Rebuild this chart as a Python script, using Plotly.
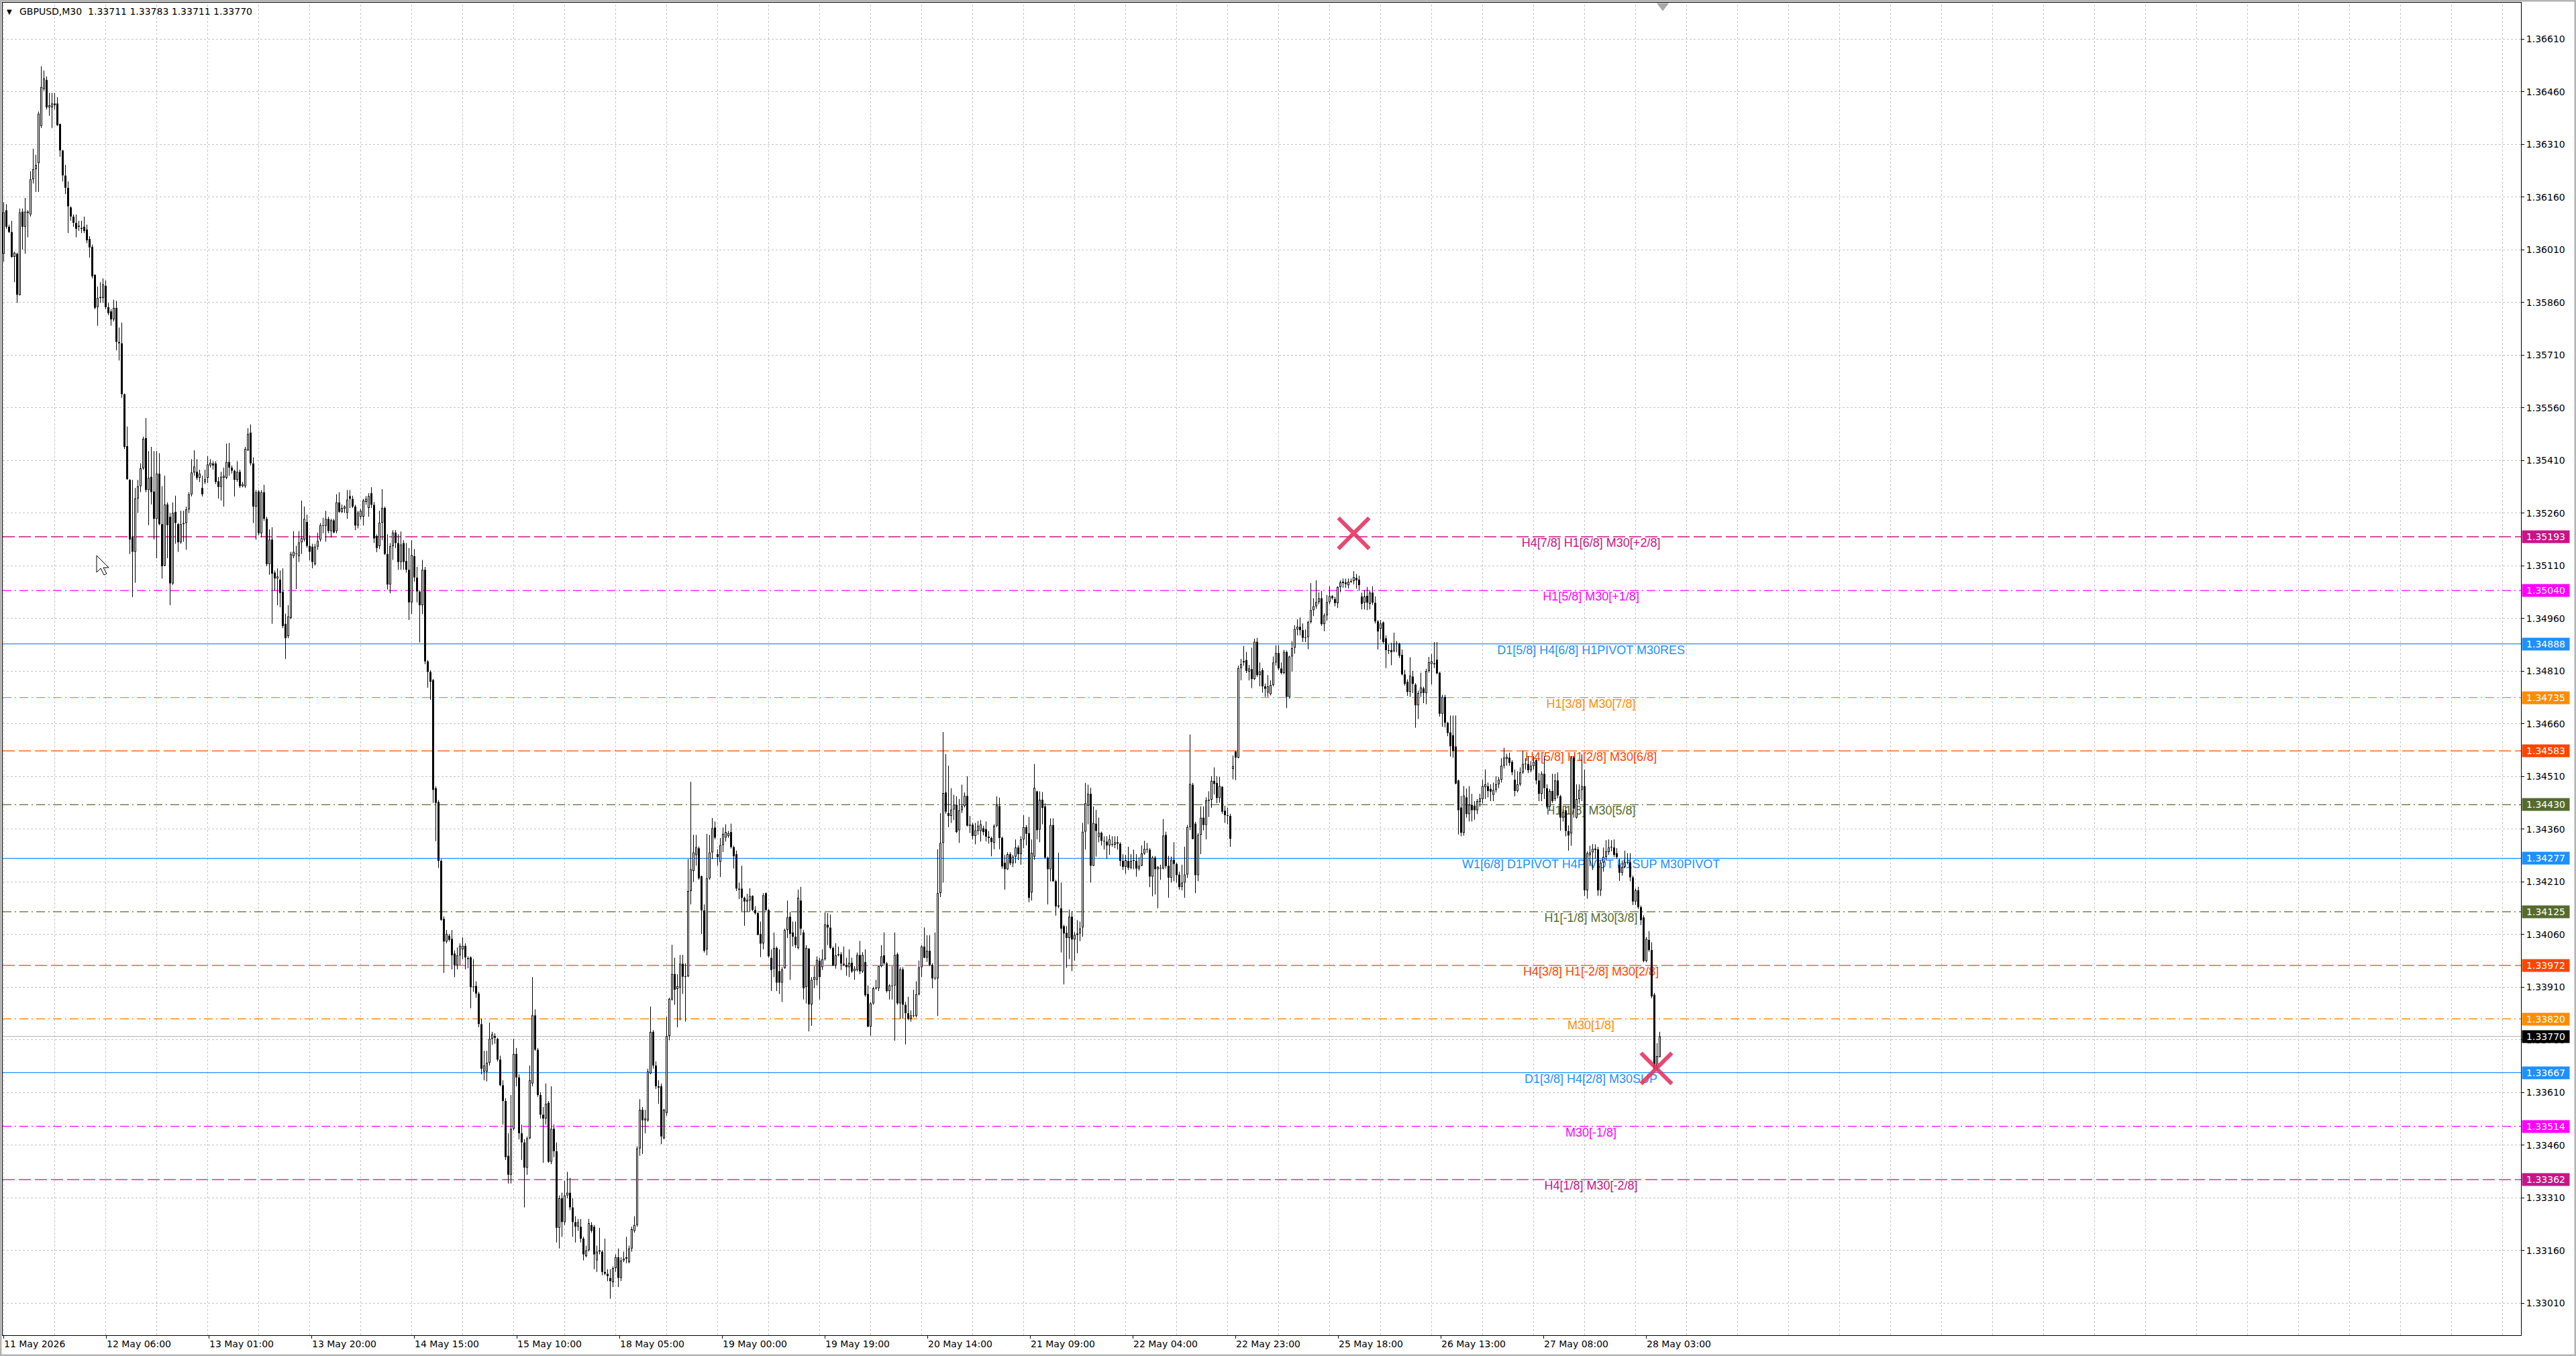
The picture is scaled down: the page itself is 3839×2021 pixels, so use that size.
import plotly.graph_objects as go

# ---------------- data: GBPUSD M30, prices in pips above 1.3300 ----------------
BASE = 1.3300

opens_pips = [
    299.9, 312.3, 307.6, 306.1, 299.0, 299.9, 288.2, 311.9, 307.6, 311.9,
    311.1, 321.1, 324.0, 325.7, 336.3, 346.8, 349.4, 341.6, 341.6, 342.7,
    342.7, 336.9, 329.3, 322.2, 318.7, 313.1, 310.5, 308.7, 307.9, 307.3,
    307.6, 306.8, 304.1, 301.9, 293.9, 284.7, 287.3, 287.3, 290.8, 284.7,
    283.5, 281.2, 284.5, 274.8, 274.4, 259.9, 245.1, 235.5, 219.1, 215.0,
    230.2, 233.7, 238.8, 247.4, 232.6, 236.4, 232.2, 224.4, 237.3, 222.9,
    211.1, 228.5, 225.0, 206.0, 226.4, 222.9, 217.7, 222.9, 223.2, 227.1,
    231.4, 237.6, 237.8, 236.1, 233.2, 234.9, 236.1, 239.6, 240.2, 240.2,
    235.1, 233.5, 236.1, 236.1, 240.6, 239.0, 238.1, 235.5, 237.8, 233.7,
    233.7, 243.9, 249.0, 240.2, 227.9, 232.2, 220.3, 232.0, 224.4, 211.5,
    218.5, 209.1, 207.4, 207.1, 203.6, 194.5, 191.0, 196.2, 213.8, 214.6,
    213.8, 217.7, 218.5, 223.5, 216.7, 216.5, 211.5, 216.5, 218.5, 222.6,
    222.4, 224.4, 220.9, 224.0, 220.9, 229.1, 226.4, 227.3, 226.1, 230.9,
    230.1, 227.9, 222.5, 225.0, 225.0, 229.2, 227.5, 231.7, 228.4, 219.5,
    216.6, 223.3, 227.5, 214.4, 205.7, 216.6, 220.5, 217.5, 212.1, 217.5,
    212.4, 209.9, 200.6, 213.8, 207.7, 203.7, 199.8, 209.9, 183.8, 180.8,
    178.5, 147.7, 143.8, 127.0, 110.5, 104.0, 105.7, 104.8, 100.6, 97.3,
    100.1, 101.8, 102.8, 99.3, 99.5, 91.2, 91.4, 89.2, 80.5, 67.0,
    67.0, 69.5, 76.3, 77.1, 76.3, 70.4, 63.1, 58.6, 43.0, 37.6,
    50.7, 72.0, 65.3, 49.4, 46.8, 39.6, 48.0, 63.6, 83.0, 73.2,
    60.3, 54.7, 53.6, 58.1, 41.3, 50.7, 44.3, 22.5, 30.9, 24.1,
    31.7, 32.5, 28.3, 24.1, 22.8, 22.8, 19.4, 14.4, 16.1, 23.3,
    22.8, 13.2, 15.7, 15.7, 9.9, 9.4, 8.2, 7.0, 11.0, 14.1,
    8.2, 13.2, 13.7, 12.7, 16.6, 21.6, 23.3, 45.1, 56.1, 53.1,
    53.1, 66.5, 78.3, 68.7, 62.8, 62.8, 48.0, 55.2, 77.1, 87.5,
    94.8, 90.5, 90.9, 97.7, 94.0, 94.1, 118.4, 124.1, 128.6, 130.6,
    122.6, 112.9, 101.8, 122.0, 129.4, 136.5, 128.9, 126.7, 131.5, 133.6,
    134.1, 135.2, 130.9, 128.9, 119.1, 119.1, 116.5, 115.4, 115.7, 117.0,
    113.0, 112.1, 106.2, 103.5, 117.8, 113.0, 99.4, 96.3, 102.2, 95.6,
    92.3, 96.4, 107.3, 111.1, 106.6, 105.4, 102.2, 115.7, 106.6, 91.1,
    102.0, 86.1, 93.1, 93.1, 98.6, 96.7, 99.0, 108.8, 108.0, 102.2,
    97.2, 100.1, 100.4, 97.7, 97.4, 96.7, 98.0, 95.6, 95.9, 100.2,
    95.5, 98.2, 89.1, 79.8, 86.4, 90.7, 90.7, 97.0, 100.1, 97.8,
    89.9, 91.5, 91.5, 100.4, 86.4, 96.1, 86.0, 83.6, 82.0, 83.0,
    82.8, 89.0, 96.7, 102.6, 99.4, 101.4, 97.4, 93.5, 93.5, 117.8,
    132.1, 146.5, 140.6, 139.8, 141.6, 143.0, 135.7, 141.4, 142.6, 145.5,
    137.0, 137.3, 134.1, 135.5, 135.5, 136.3, 136.0, 133.9, 133.5, 132.1,
    137.0, 142.6, 133.6, 126.5, 124.6, 128.9, 126.3, 128.2, 130.8, 128.9,
    133.1, 136.6, 134.9, 118.0, 128.2, 146.8, 135.9, 144.4, 142.5, 127.9,
    124.6, 137.2, 121.2, 114.0, 113.5, 108.4, 106.5, 105.0, 111.1, 104.6,
    105.9, 106.3, 108.0, 135.3, 142.7, 146.1, 125.6, 137.6, 133.8, 135.0,
    132.7, 132.5, 131.4, 131.8, 131.6, 132.3, 131.9, 127.0, 125.3, 127.0,
    125.0, 127.0, 127.0, 124.8, 125.6, 129.1, 130.4, 130.2, 122.5, 127.9,
    124.6, 125.0, 124.8, 134.4, 125.6, 122.2, 127.3, 126.1, 123.1, 119.6,
    120.8, 123.1, 136.6, 148.7, 137.6, 122.9, 134.4, 139.3, 137.2, 144.1,
    144.4, 149.8, 149.2, 144.9, 148.1, 141.3, 140.0, 139.8, 153.2, 158.1,
    156.4, 181.9, 183.5, 184.2, 180.9, 181.6, 178.8, 189.4, 179.9, 181.3,
    176.7, 174.9, 174.5, 177.1, 183.5, 186.2, 181.8, 180.5, 186.5, 173.7,
    185.2, 187.7, 192.9, 193.7, 192.7, 190.5, 190.7, 195.0, 198.4, 199.5,
    200.7, 201.8, 194.4, 196.9, 200.7, 202.4, 201.6, 200.4, 205.0, 206.1,
    206.3, 205.5, 206.5, 206.7, 207.6, 207.1, 202.3, 200.5, 202.5, 200.2,
    203.4, 200.5, 195.2, 193.1, 194.9, 190.4, 187.0, 187.0, 186.7, 188.9,
    188.9, 185.7, 180.1, 178.0, 175.1, 179.5, 177.2, 171.3, 174.8, 176.1,
    174.8, 181.1, 183.1, 183.3, 184.3, 180.6, 168.9, 173.7, 166.3, 163.6,
    162.8, 159.6, 149.9, 142.2, 135.0, 145.1, 140.3, 143.0, 142.7, 141.4,
    143.8, 144.6, 148.0, 148.3, 147.5, 145.8, 147.2, 148.8, 150.1, 154.1,
    156.0, 156.4, 155.2, 150.1, 146.9, 148.8, 152.2, 154.6, 154.6, 152.8,
    154.0, 155.7, 149.9, 146.1, 151.8, 147.7, 142.4, 146.9, 144.6, 149.9,
    145.4, 139.3, 141.4, 135.5, 134.8, 156.4, 139.3, 144.6, 147.2, 148.3,
    118.6, 128.6, 129.4, 130.1, 130.3, 118.6, 126.5, 128.1, 129.5, 130.8,
    130.8, 129.2, 125.9, 123.6, 125.3, 126.6, 126.6, 122.3, 115.4, 118.6,
    113.8, 110.9, 98.5, 104.5, 101.6, 88.9, 67.7, 71.1,
]

highs_pips = [
    314.6, 314.0, 308.2, 309.3, 300.5, 300.2, 312.8, 312.8, 315.8, 312.3,
    323.4, 329.8, 328.1, 340.4, 353.3, 352.1, 350.4, 345.7, 345.7, 345.7,
    344.5, 336.9, 329.5, 325.2, 320.5, 313.4, 311.1, 311.1, 309.3, 309.3,
    310.5, 308.2, 304.9, 302.5, 294.1, 290.6, 291.8, 292.9, 292.3, 285.9,
    284.1, 286.8, 286.5, 278.9, 280.3, 260.1, 250.7, 235.7, 235.5, 233.2,
    235.5, 240.2, 247.8, 253.1, 243.7, 244.9, 243.7, 243.7, 243.1, 233.7,
    236.7, 229.1, 226.1, 229.1, 231.0, 223.2, 226.7, 226.7, 227.9, 232.0,
    241.4, 243.9, 241.4, 238.4, 236.7, 238.4, 242.3, 241.4, 240.8, 240.8,
    236.3, 237.8, 239.0, 245.8, 246.0, 239.6, 238.4, 240.8, 238.4, 234.9,
    244.9, 250.2, 251.3, 241.9, 232.6, 232.6, 232.6, 234.1, 225.0, 221.4,
    222.0, 209.7, 210.3, 209.7, 210.3, 197.4, 199.8, 215.0, 220.9, 216.7,
    220.9, 229.6, 227.9, 225.6, 219.7, 217.3, 217.3, 220.5, 223.2, 224.7,
    226.7, 225.0, 224.4, 224.4, 231.4, 232.0, 228.5, 228.2, 232.6, 232.6,
    231.0, 228.4, 226.7, 227.2, 230.1, 230.9, 231.7, 233.4, 229.2, 220.0,
    226.7, 232.9, 227.9, 220.0, 217.5, 221.2, 221.2, 220.0, 220.8, 218.3,
    217.5, 216.1, 218.3, 215.8, 210.7, 204.0, 212.7, 210.7, 184.2, 181.3,
    178.8, 148.2, 144.3, 127.5, 111.2, 107.3, 106.2, 107.3, 101.5, 102.3,
    103.5, 105.2, 103.5, 99.8, 99.8, 99.0, 92.7, 89.7, 82.1, 72.9,
    72.9, 80.9, 78.3, 77.9, 76.6, 71.5, 64.5, 59.4, 49.4, 60.3,
    76.3, 73.7, 66.2, 51.9, 47.7, 48.5, 68.7, 93.9, 84.7, 73.7,
    61.1, 56.9, 63.6, 58.6, 62.8, 51.9, 46.8, 31.7, 32.5, 35.9,
    38.4, 36.7, 30.9, 25.8, 25.0, 25.0, 19.9, 17.4, 25.0, 24.1,
    23.3, 17.4, 22.5, 16.1, 19.4, 10.7, 10.7, 11.5, 14.9, 16.6,
    14.1, 15.7, 19.9, 17.4, 22.8, 25.8, 45.7, 59.1, 56.9, 56.1,
    67.8, 85.5, 78.8, 69.9, 64.5, 63.6, 56.4, 82.6, 88.0, 103.1,
    99.4, 94.7, 100.2, 100.2, 97.8, 127.5, 149.5, 134.4, 134.4, 131.1,
    122.8, 114.6, 134.7, 134.4, 139.2, 138.2, 130.3, 133.5, 136.5, 137.4,
    135.5, 137.6, 131.3, 129.9, 120.8, 125.6, 116.8, 117.6, 119.2, 117.2,
    114.1, 112.3, 109.7, 117.8, 118.0, 113.3, 101.8, 106.6, 102.6, 101.8,
    96.7, 107.7, 115.7, 112.5, 109.7, 109.7, 118.8, 119.6, 107.3, 103.0,
    102.2, 93.9, 97.0, 99.8, 99.4, 101.8, 112.3, 112.1, 111.7, 102.6,
    103.5, 102.6, 101.0, 102.6, 99.4, 101.8, 99.4, 97.0, 100.9, 104.2,
    101.0, 101.8, 91.5, 86.8, 91.1, 93.1, 97.0, 103.0, 106.6, 98.2,
    91.9, 97.0, 106.6, 100.9, 96.7, 96.7, 86.8, 88.3, 84.4, 90.3,
    92.7, 98.6, 103.0, 108.0, 105.8, 105.8, 97.8, 106.6, 130.3, 140.6,
    163.7, 157.4, 154.1, 147.7, 145.8, 145.4, 144.6, 148.7, 146.5, 151.1,
    139.8, 137.8, 137.8, 138.4, 138.6, 137.0, 138.2, 135.5, 133.9, 137.4,
    145.4, 145.0, 133.9, 128.7, 129.4, 129.5, 128.7, 133.1, 131.4, 134.0,
    140.0, 137.2, 139.5, 133.1, 154.6, 147.0, 146.8, 146.6, 143.4, 128.2,
    139.1, 139.1, 121.6, 129.3, 120.8, 108.8, 108.4, 113.1, 112.7, 106.7,
    110.1, 109.7, 137.8, 149.2, 148.7, 147.8, 142.5, 141.5, 139.3, 135.3,
    134.0, 134.0, 134.4, 134.0, 134.0, 134.0, 132.3, 128.9, 128.7, 131.0,
    128.9, 130.2, 128.9, 128.0, 131.4, 132.7, 132.1, 130.6, 128.4, 128.4,
    125.5, 125.9, 138.9, 135.3, 128.4, 128.2, 132.3, 126.5, 123.9, 125.9,
    131.0, 137.2, 163.0, 149.2, 138.1, 134.9, 142.5, 142.5, 145.1, 146.8,
    151.1, 153.6, 151.1, 150.9, 148.3, 142.7, 142.1, 140.4, 157.0, 158.3,
    182.6, 184.5, 188.2, 186.5, 182.8, 187.7, 190.3, 190.5, 183.5, 181.9,
    177.5, 179.9, 178.4, 185.2, 188.4, 188.4, 183.5, 187.1, 186.9, 185.4,
    189.6, 194.1, 195.8, 196.3, 194.6, 192.9, 195.4, 206.1, 201.8, 206.9,
    203.5, 203.9, 197.5, 202.7, 205.2, 202.7, 202.2, 205.2, 206.9, 207.4,
    207.4, 207.4, 207.4, 209.5, 208.7, 208.2, 203.4, 204.1, 205.0, 203.9,
    205.2, 202.3, 195.6, 195.6, 195.2, 191.2, 188.6, 189.1, 192.0, 189.6,
    189.1, 187.2, 181.4, 178.7, 185.0, 181.1, 177.6, 175.5, 180.6, 176.6,
    181.7, 185.1, 185.9, 189.3, 189.3, 180.8, 174.3, 174.3, 166.6, 168.4,
    168.4, 168.4, 150.1, 145.5, 148.3, 147.6, 148.3, 146.1, 144.0, 144.6,
    146.1, 150.1, 153.0, 149.3, 148.8, 149.3, 151.1, 150.9, 156.2, 159.2,
    157.5, 157.8, 155.7, 153.0, 152.5, 153.6, 158.3, 156.2, 156.8, 155.4,
    156.8, 156.0, 152.0, 152.5, 156.8, 148.8, 147.5, 151.8, 151.8, 152.2,
    145.8, 141.6, 142.7, 137.1, 156.8, 156.8, 148.8, 148.8, 157.3, 153.0,
    129.7, 131.3, 131.8, 131.7, 131.0, 127.1, 130.8, 132.9, 133.1, 132.9,
    133.1, 130.6, 127.6, 127.1, 129.9, 129.2, 129.2, 122.8, 119.1, 119.6,
    114.3, 111.5, 105.3, 107.0, 103.8, 89.4, 75.1, 78.3,
]

lows_pips = [
    297.6, 307.0, 305.8, 298.8, 291.8, 285.9, 288.0, 301.1, 299.9, 304.6,
    310.5, 319.9, 317.5, 317.5, 335.7, 346.3, 341.0, 339.2, 335.7, 341.0,
    336.3, 327.5, 320.5, 316.9, 305.8, 309.3, 307.6, 304.6, 306.4, 305.8,
    305.8, 302.9, 298.8, 292.9, 284.1, 279.4, 285.9, 285.9, 284.1, 282.4,
    279.4, 280.6, 272.4, 269.5, 258.9, 244.3, 235.5, 214.4, 202.1, 206.2,
    226.1, 232.0, 238.4, 232.0, 222.6, 228.5, 218.5, 213.2, 222.6, 207.4,
    210.9, 213.2, 199.8, 205.6, 217.3, 215.0, 217.3, 217.9, 215.6, 226.1,
    230.8, 236.7, 235.5, 234.9, 230.8, 234.3, 234.6, 239.0, 238.4, 234.3,
    230.2, 229.6, 227.9, 235.7, 236.7, 237.3, 230.8, 234.9, 233.2, 233.4,
    233.2, 243.7, 239.6, 223.2, 218.5, 219.7, 219.1, 223.8, 210.9, 208.5,
    194.5, 203.9, 199.8, 199.2, 193.3, 184.5, 190.4, 195.8, 213.2, 204.4,
    212.1, 214.4, 217.9, 216.2, 212.6, 210.3, 211.1, 215.6, 217.9, 220.3,
    217.9, 220.3, 219.1, 220.3, 220.3, 226.1, 226.1, 226.1, 224.4, 227.5,
    227.5, 221.2, 221.7, 224.2, 222.5, 228.4, 225.0, 227.5, 217.5, 214.9,
    215.8, 218.3, 214.1, 204.3, 203.2, 212.7, 216.1, 209.9, 209.9, 209.9,
    209.1, 195.6, 197.3, 206.5, 200.6, 189.2, 197.3, 183.0, 176.3, 172.9,
    143.5, 132.6, 125.0, 109.9, 95.1, 103.5, 104.0, 96.1, 93.9, 96.1,
    97.3, 99.0, 96.1, 96.4, 85.0, 89.7, 88.0, 79.6, 66.2, 64.5,
    64.2, 68.7, 74.6, 74.9, 69.9, 62.8, 51.9, 41.8, 35.1, 35.1,
    50.2, 62.8, 47.7, 41.8, 28.3, 37.6, 47.7, 62.8, 72.9, 59.8,
    53.6, 41.0, 51.9, 41.0, 40.6, 42.6, 18.3, 16.6, 19.9, 23.3,
    30.9, 27.5, 19.9, 18.3, 21.6, 18.3, 13.2, 14.1, 15.7, 21.1,
    10.7, 9.9, 14.9, 9.0, 9.0, 7.3, 2.3, 5.6, 9.9, 5.6,
    7.3, 12.7, 12.4, 12.4, 15.7, 21.1, 22.8, 43.0, 43.5, 49.4,
    52.7, 66.2, 67.8, 62.0, 57.8, 46.3, 47.7, 54.4, 75.9, 87.2,
    86.0, 79.6, 81.6, 89.1, 81.2, 93.9, 114.6, 121.0, 125.6, 121.6,
    106.2, 100.9, 100.1, 121.6, 127.5, 133.1, 125.6, 122.4, 129.5, 132.5,
    133.6, 130.5, 124.8, 118.4, 116.1, 112.7, 108.5, 112.5, 112.5, 112.7,
    111.7, 105.8, 99.6, 101.8, 112.7, 99.4, 89.9, 93.9, 89.9, 89.1,
    86.8, 96.3, 105.0, 93.1, 102.6, 102.2, 101.8, 105.8, 87.5, 86.4,
    78.4, 80.0, 90.7, 91.5, 87.5, 95.9, 98.6, 103.0, 101.8, 97.0,
    96.3, 99.8, 95.9, 97.0, 94.3, 93.9, 95.1, 93.1, 95.5, 94.7,
    95.1, 88.3, 79.6, 77.2, 86.0, 90.3, 89.9, 96.7, 97.4, 89.5,
    87.5, 87.5, 75.8, 86.0, 82.0, 82.0, 74.7, 81.6, 81.2, 82.4,
    82.4, 88.7, 93.9, 99.3, 98.2, 97.0, 90.7, 93.1, 82.8, 116.7,
    120.8, 140.4, 136.6, 137.8, 138.6, 134.9, 132.1, 140.6, 142.2, 136.8,
    134.9, 133.1, 131.7, 134.4, 132.5, 134.3, 132.5, 131.9, 128.3, 130.3,
    136.6, 130.3, 124.8, 118.8, 124.4, 125.8, 125.2, 126.3, 127.2, 125.9,
    130.6, 131.4, 115.2, 115.7, 127.3, 133.1, 132.3, 137.4, 127.6, 114.6,
    121.2, 121.0, 111.4, 113.5, 100.9, 91.8, 96.5, 99.0, 95.6, 98.6,
    100.7, 104.1, 105.4, 130.2, 137.4, 120.8, 125.5, 128.2, 132.3, 131.4,
    130.2, 127.6, 128.7, 131.0, 130.6, 130.2, 125.5, 124.4, 123.3, 124.4,
    124.6, 124.6, 122.5, 124.2, 125.5, 128.7, 129.3, 119.5, 116.9, 117.4,
    113.5, 121.6, 124.6, 124.8, 116.5, 120.8, 121.2, 120.8, 118.8, 118.6,
    116.5, 122.1, 135.7, 133.1, 117.8, 121.2, 128.9, 135.7, 133.1, 139.5,
    142.1, 145.9, 143.4, 143.6, 140.4, 137.8, 137.4, 131.0, 150.2, 150.0,
    156.2, 178.4, 182.6, 180.5, 178.4, 176.2, 178.5, 179.4, 176.7, 174.9,
    173.7, 173.7, 174.1, 176.7, 182.6, 181.3, 180.1, 180.1, 170.5, 173.2,
    180.9, 186.0, 191.2, 191.2, 189.3, 189.3, 187.3, 194.6, 196.7, 198.8,
    200.1, 193.9, 192.4, 195.4, 200.1, 201.4, 199.5, 199.0, 203.5, 204.8,
    204.8, 204.6, 206.1, 205.7, 204.5, 203.9, 198.6, 198.6, 198.4, 198.6,
    199.9, 194.6, 187.2, 190.0, 188.9, 181.9, 185.9, 182.7, 186.4, 186.4,
    184.8, 179.8, 176.9, 174.0, 173.7, 174.8, 164.9, 167.4, 173.7, 171.9,
    171.6, 180.6, 177.2, 181.9, 180.1, 168.1, 165.2, 165.0, 162.5, 156.7,
    156.4, 148.8, 134.5, 134.0, 134.2, 139.3, 138.2, 138.2, 138.7, 140.3,
    142.4, 143.3, 144.6, 145.1, 144.0, 144.0, 146.5, 147.7, 149.3, 153.3,
    154.1, 154.1, 151.4, 145.4, 146.5, 148.3, 151.8, 153.0, 152.0, 152.2,
    153.0, 148.8, 144.0, 144.0, 144.6, 141.9, 141.4, 143.5, 144.0, 144.8,
    135.6, 138.2, 134.0, 129.9, 131.3, 139.3, 139.0, 143.3, 144.0, 117.0,
    116.2, 125.5, 124.4, 127.6, 117.0, 117.0, 123.9, 127.1, 128.7, 129.7,
    128.1, 127.6, 121.3, 122.8, 124.9, 126.0, 121.2, 114.4, 114.4, 113.3,
    108.7, 98.1, 98.1, 101.1, 87.9, 67.2, 67.2, 71.1,
]

closes_pips = [
    311.7, 307.6, 306.1, 299.0, 300.2, 288.2, 311.7, 307.6, 311.9, 311.5,
    321.1, 324.0, 325.2, 339.8, 347.4, 349.8, 341.6, 342.2, 342.7, 342.2,
    336.5, 329.3, 322.2, 318.7, 313.4, 310.5, 308.7, 307.0, 307.6, 307.0,
    306.4, 303.7, 301.7, 293.5, 284.5, 287.3, 287.6, 291.2, 284.7, 283.0,
    281.2, 284.5, 274.8, 274.4, 259.9, 244.9, 235.7, 218.5, 215.0, 230.2,
    233.7, 238.8, 247.2, 232.6, 236.1, 232.0, 224.4, 237.3, 222.9, 210.9,
    228.5, 222.6, 206.0, 226.1, 223.2, 217.7, 222.9, 223.2, 227.1, 231.4,
    237.6, 239.3, 236.1, 237.3, 231.4, 235.7, 239.9, 240.4, 239.6, 234.9,
    233.5, 236.4, 236.7, 240.6, 239.0, 238.1, 235.5, 237.8, 233.7, 234.3,
    244.3, 248.6, 240.2, 227.9, 232.0, 220.3, 232.0, 224.4, 211.5, 218.5,
    208.8, 207.4, 208.0, 203.3, 193.9, 190.4, 196.6, 214.4, 215.0, 214.4,
    217.7, 218.9, 224.4, 216.7, 215.0, 212.1, 216.5, 218.1, 222.6, 222.4,
    224.4, 220.9, 224.0, 220.5, 229.1, 226.4, 227.5, 227.9, 229.9, 230.1,
    227.9, 222.5, 226.2, 226.7, 229.6, 230.1, 230.9, 228.4, 218.8, 216.1,
    223.3, 227.5, 214.4, 205.7, 216.6, 220.5, 217.5, 212.1, 217.1, 212.1,
    209.9, 200.6, 214.1, 207.7, 203.7, 199.8, 209.9, 183.8, 180.8, 178.0,
    147.2, 143.5, 127.0, 110.2, 104.0, 106.2, 104.5, 100.1, 97.3, 100.1,
    102.8, 102.8, 99.5, 99.0, 91.0, 91.0, 89.2, 80.5, 67.8, 68.7,
    69.5, 76.3, 77.6, 76.6, 70.4, 63.1, 58.6, 42.6, 37.6, 50.7,
    72.0, 65.3, 49.4, 46.8, 39.6, 48.0, 64.5, 83.0, 73.2, 60.3,
    54.7, 53.6, 57.8, 41.3, 50.7, 44.3, 22.5, 30.9, 24.1, 31.7,
    32.5, 28.3, 24.1, 22.8, 24.1, 19.4, 14.9, 16.1, 23.8, 21.6,
    14.9, 15.7, 16.1, 9.9, 9.4, 8.7, 7.3, 11.0, 14.1, 8.2,
    13.2, 13.7, 14.1, 16.6, 22.1, 23.3, 45.1, 56.1, 53.1, 53.6,
    67.0, 78.3, 68.7, 62.8, 62.4, 48.5, 56.1, 77.1, 87.7, 94.8,
    90.3, 91.3, 97.7, 94.0, 94.1, 118.4, 124.6, 129.4, 130.9, 122.0,
    112.9, 101.4, 122.0, 129.4, 136.3, 133.6, 128.1, 131.5, 134.7, 135.2,
    134.9, 130.9, 128.3, 119.1, 118.8, 116.5, 115.4, 115.9, 117.0, 113.0,
    112.1, 105.9, 103.4, 117.2, 113.0, 99.8, 95.9, 102.2, 92.3, 92.3,
    96.1, 107.3, 110.9, 106.2, 105.4, 103.0, 116.5, 107.7, 90.7, 102.2,
    86.1, 93.1, 93.9, 98.8, 93.9, 99.0, 108.9, 108.0, 102.2, 97.2,
    100.1, 100.4, 97.7, 97.4, 96.7, 98.0, 95.5, 96.3, 100.2, 95.5,
    100.2, 88.7, 79.8, 86.4, 90.7, 90.9, 97.0, 99.8, 97.8, 89.9,
    91.5, 91.3, 100.2, 86.4, 96.1, 86.0, 83.6, 82.0, 83.0, 82.8,
    89.0, 96.7, 102.6, 99.4, 101.4, 97.4, 93.5, 93.7, 117.8, 132.1,
    146.3, 141.0, 139.8, 141.6, 143.0, 135.2, 141.4, 142.6, 145.5, 137.0,
    137.3, 134.1, 135.7, 137.0, 137.4, 135.2, 133.9, 133.5, 132.3, 137.0,
    142.8, 133.5, 125.4, 124.6, 128.9, 126.3, 128.2, 130.8, 128.9, 133.1,
    136.6, 134.7, 116.5, 129.3, 147.8, 135.7, 144.4, 142.1, 127.9, 124.6,
    137.2, 121.2, 114.0, 114.3, 107.7, 106.3, 105.0, 111.1, 104.6, 105.9,
    106.3, 107.7, 135.3, 143.4, 146.1, 125.6, 137.8, 135.5, 135.0, 132.7,
    132.5, 131.4, 133.1, 131.6, 132.3, 131.9, 127.0, 125.3, 127.2, 125.0,
    127.0, 127.2, 124.8, 125.6, 129.1, 130.4, 130.2, 122.5, 127.9, 124.6,
    125.3, 124.8, 134.2, 125.5, 122.2, 127.3, 126.1, 122.9, 119.5, 120.8,
    123.1, 136.6, 148.9, 133.2, 122.9, 134.4, 139.3, 137.2, 144.2, 144.4,
    149.8, 148.9, 144.9, 148.3, 141.0, 140.0, 139.8, 133.3, 154.0, 156.4,
    181.9, 183.0, 183.9, 181.1, 181.8, 178.8, 189.4, 179.9, 180.9, 176.7,
    176.0, 176.7, 177.1, 183.5, 186.2, 181.8, 180.5, 186.5, 173.7, 185.2,
    187.6, 193.0, 193.7, 192.7, 190.5, 190.7, 195.0, 198.4, 199.5, 200.7,
    201.8, 194.4, 196.9, 200.7, 202.4, 201.8, 200.4, 205.0, 206.3, 206.5,
    205.8, 206.5, 206.7, 207.8, 206.9, 205.5, 200.2, 202.3, 200.5, 203.4,
    200.5, 195.2, 192.3, 194.6, 189.3, 187.0, 186.8, 186.4, 188.9, 188.8,
    185.4, 180.1, 177.4, 175.1, 179.8, 177.4, 171.3, 174.8, 176.4, 174.8,
    181.1, 183.6, 183.8, 183.0, 180.4, 168.9, 173.7, 166.3, 163.4, 159.6,
    158.3, 149.0, 141.4, 135.0, 145.6, 140.3, 143.0, 141.4, 141.4, 144.0,
    144.8, 148.3, 148.8, 146.9, 146.7, 147.2, 148.8, 150.1, 154.1, 156.4,
    156.6, 154.9, 152.2, 146.9, 148.8, 152.2, 154.6, 154.5, 152.8, 154.1,
    155.2, 149.9, 146.1, 151.8, 147.7, 142.4, 146.9, 144.0, 149.9, 145.6,
    139.3, 140.9, 135.5, 134.2, 156.4, 141.9, 144.6, 147.2, 148.3, 118.6,
    129.2, 129.4, 130.4, 130.5, 118.6, 126.5, 128.1, 129.7, 130.8, 131.0,
    128.7, 128.1, 123.6, 125.3, 126.6, 126.5, 122.3, 115.4, 118.6, 113.8,
    110.1, 98.5, 104.8, 101.6, 88.4, 67.7, 71.4, 77.0,
]

time_labels = [
    "11 May 2026", "12 May 06:00", "13 May 01:00", "13 May 20:00", "14 May 15:00",
    "15 May 10:00", "18 May 05:00", "19 May 00:00", "19 May 19:00", "20 May 14:00",
    "21 May 09:00", "22 May 04:00", "22 May 23:00", "25 May 18:00", "26 May 13:00",
    "27 May 08:00", "28 May 03:00",
]

price_ticks = [
    1.33010, 1.33160, 1.33310, 1.33460, 1.33610, 1.33760, 1.33910, 1.34060, 1.34210,
    1.34360, 1.34510, 1.34660, 1.34810, 1.34960, 1.35110, 1.35260, 1.35410, 1.35560,
    1.35710, 1.35860, 1.36010, 1.36160, 1.36310, 1.36460, 1.36610,
]

level_prices = [1.35193, 1.35040, 1.34888, 1.34735, 1.34583, 1.34430, 1.34277,
                1.34125, 1.33972, 1.33820, 1.33667, 1.33514, 1.33362]
level_names = [
    "H4[7/8] H1[6/8] M30[+2/8]", "H1[5/8] M30[+1/8]", "D1[5/8] H4[6/8] H1PIVOT M30RES",
    "H1[3/8] M30[7/8]", "H4[5/8] H1[2/8] M30[6/8]", "H1[1/8] M30[5/8]",
    "W1[6/8] D1PIVOT H4PIVOT H1SUP M30PIVOT", "H1[-1/8] M30[3/8]", "H4[3/8] H1[-2/8] M30[2/8]",
    "M30[1/8]", "D1[3/8] H4[2/8] M30SUP", "M30[-1/8]", "H4[1/8] M30[-2/8]",
]
level_colors = ["#C71585", "#FF00FF", "#1E90FF", "#FF8C00", "#FF4500", "#556B2F", "#1E90FF",
                "#556B2F", "#FF4500", "#FF8C00", "#1E90FF", "#FF00FF", "#C71585"]
level_styles = ["long", "dashdot", "solid", "dashdot", "long", "dashdot", "solid",
                "dashdot", "long", "dashdot", "solid", "dashdot", "long"]

current_price = 1.33770
header = "GBPUSD,M30\u00a0\u00a01.33711 1.33783 1.33711 1.33770"

cross_bars = [503, 615.75]
cross_prices = [1.35203, 1.33679]

# ---------------- geometry ----------------
W, H = 3839, 2021
ML, MR, MT, MB = 4, 82, 4, 31
plot_w = W - ML - MR
plot_h = H - MT - MB
Y_LO, Y_HI = 1.329190, 1.367141
BAR_PX = 4.0
X_LO = -0.375
X_HI = X_LO + plot_w / BAR_PX
PX = plot_h / (Y_HI - Y_LO)      # pixels per price unit
one_px = 1.0 / PX

n = len(closes_pips)
assert len(opens_pips) == n and len(highs_pips) == n and len(lows_pips) == n, \
    (len(opens_pips), len(highs_pips), len(lows_pips), n)

o = [BASE + v / 1e4 for v in opens_pips]
hi = [BASE + v / 1e4 for v in highs_pips]
lo = [BASE + v / 1e4 for v in lows_pips]
c = [BASE + v / 1e4 for v in closes_pips]

wick_x, wick_y, body_x, body_y, hol_x, hol_y = [], [], [], [], [], []
for i in range(n):
    top, bot = max(o[i], c[i]), min(o[i], c[i])
    if top - bot < one_px:
        mid = (top + bot) / 2
        top, bot = mid + one_px / 2, mid - one_px / 2
    wick_x += [i, i, None, i, i, None]
    wick_y += [max(hi[i], top), top, None, bot, min(lo[i], bot), None]
    body_x += [i, i, None]
    body_y += [bot, top, None]
    if c[i] > o[i] and top - bot > 2.5 * one_px:
        hol_x += [i, i, None]
        hol_y += [bot + one_px, top - one_px, None]

fig = go.Figure()

# level captions (under the candles, as in the terminal)
fig.add_trace(go.Scatter(
    x=[591.4] * len(level_prices),
    y=[p - 10.5 * one_px for p in level_prices],
    text=level_names, mode="text",
    textfont=dict(family="Liberation Sans, Arial", size=18, color=level_colors),
    hoverinfo="skip",
))
fig.add_trace(go.Scatter(x=wick_x, y=wick_y, mode="lines",
                         line=dict(color="black", width=1), hoverinfo="skip"))
fig.add_trace(go.Scatter(x=body_x, y=body_y, mode="lines",
                         line=dict(color="black", width=3), hoverinfo="skip"))
fig.add_trace(go.Scatter(x=hol_x, y=hol_y, mode="lines",
                         line=dict(color="white", width=1), hoverinfo="skip"))
fig.add_trace(go.Scatter(
    x=cross_bars, y=cross_prices, mode="markers", hoverinfo="skip",
    marker=dict(symbol="x-thin", size=46, line=dict(width=6, color="rgba(232,52,98,0.9)")),
))
# chart-shift marker at the top
fig.add_trace(go.Scatter(
    x=[(2478 - 5.5) / BAR_PX], y=[Y_HI - 4.5 * one_px], mode="markers", cliponaxis=False,
    marker=dict(symbol="triangle-down", size=16, color="#A8A8A8"), hoverinfo="skip",
))

shapes = []
for k in range(0, 50):
    shapes.append(dict(type="line", xref="x", yref="paper", x0=19 * k, x1=19 * k, y0=0, y1=1,
                       line=dict(color="#C4C4C4", width=1, dash="3px,3px"), layer="below"))
dash_map = {"long": "18px,6px", "dashdot": "13px,5px,2px,5px", "solid": "solid"}
for p, col, st in zip(level_prices, level_colors, level_styles):
    shapes.append(dict(type="line", xref="paper", yref="y", x0=0, x1=1, y0=p, y1=p,
                       line=dict(color=col, width=1.3, dash=dash_map[st]), layer="below"))
shapes.append(dict(type="line", xref="paper", yref="y", x0=0, x1=1,
                   y0=current_price, y1=current_price,
                   line=dict(color="#C0C0C0", width=1.2), layer="below"))


# mouse pointer left on the chart (pixel outline around its tip)
def page_to_data(px_x, px_y):
    return X_LO + (px_x - ML) / BAR_PX, Y_HI - (px_y - MT) / PX


tip_x, tip_y = 144, 828
arrow = [(0, 0), (0, 25), (6, 19), (11, 29), (15, 27), (10, 18), (18, 18)]
pts = [page_to_data(tip_x + ax, tip_y + ay) for ax, ay in arrow]
path = "M " + " L ".join(f"{px_},{py_}" for px_, py_ in pts) + " Z"
shapes.append(dict(type="path", xref="x", yref="y", path=path, fillcolor="white",
                   line=dict(color="black", width=1), layer="above"))

# window frame
shapes.append(dict(type="rect", xref="paper", yref="paper",
                   x0=-ML / plot_w, x1=1 + MR / plot_w, y0=-MB / plot_h, y1=1 + MT / plot_h,
                   line=dict(color="#B4B4B4", width=5), layer="above"))

ann = []
ann.append(dict(text="\u25bc", xref="paper", yref="paper", x=0, y=1, xanchor="left",
                yanchor="middle", xshift=4, yshift=-13, showarrow=False,
                font=dict(family="DejaVu Sans", size=10, color="black")))
ann.append(dict(text=header, xref="paper", yref="paper", x=0, y=1, xanchor="left",
                yanchor="middle", xshift=23, yshift=-12.7, showarrow=False,
                font=dict(family="DejaVu Sans", size=14, color="black")))
label_pos = [X_LO + (2 + 153 * k) / BAR_PX for k in range(len(time_labels))]
for xp, lab in zip(label_pos, time_labels):
    ann.append(dict(text=lab, xref="x", yref="paper", x=xp, y=0, xanchor="left",
                    yanchor="top", yshift=-3, xshift=-2, showarrow=False,
                    font=dict(family="DejaVu Sans", size=14, color="black")))
box_prices = level_prices + [current_price]
box_colors = level_colors + ["black"]
for p, col in zip(box_prices, box_colors):
    ann.append(dict(text=f"{p:.5f}", xref="paper", yref="y", x=1, y=p, xanchor="left",
                    yanchor="middle", xshift=1, showarrow=False, width=66, height=14,
                    borderpad=2, bgcolor=col, align="center",
                    font=dict(family="DejaVu Sans", size=14, color="white")))

tick_pos = [X_LO + (1.5 + 153 * k) / BAR_PX for k in range(len(time_labels))]

fig.update_layout(
    width=W, height=H,
    margin=dict(l=ML, r=MR, t=MT, b=MB, pad=0),
    paper_bgcolor="white", plot_bgcolor="white",
    showlegend=False, hovermode=False,
    shapes=shapes, annotations=ann,
    xaxis=dict(range=[X_LO, X_HI], tickmode="array", tickvals=tick_pos,
               showticklabels=False, ticks="outside", ticklen=4, tickcolor="black",
               showgrid=False, zeroline=False, showline=True, mirror=True,
               linecolor="black", linewidth=1, fixedrange=True),
    yaxis=dict(range=[Y_LO, Y_HI], side="right", tickmode="array", tickvals=price_ticks,
               ticktext=[f"{t:.5f}" for t in price_ticks], ticks="outside", ticklen=4,
               tickcolor="black", ticklabelstandoff=0,
               tickfont=dict(family="DejaVu Sans", size=14, color="black"),
               showgrid=True, gridcolor="#C4C4C4", griddash="3px,3px", gridwidth=1,
               zeroline=False, showline=True, mirror=True, linecolor="black",
               linewidth=1, fixedrange=True),
)

# the page body has a default 8px margin; remove it so the chart fills the window
fig.write_html("out.html", config={"displayModeBar": False},
               post_script="document.body.style.margin='0';document.body.style.overflow='hidden';")
